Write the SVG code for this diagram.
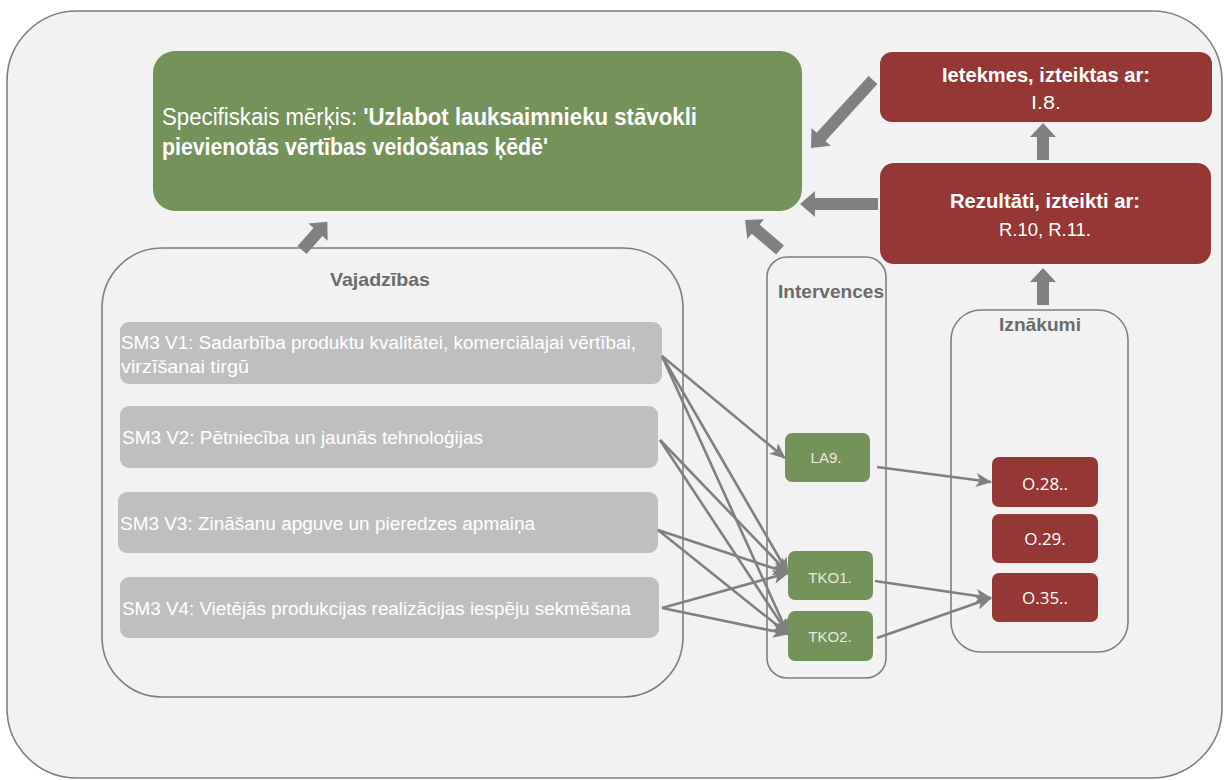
<svg xmlns="http://www.w3.org/2000/svg" width="1225" height="780" viewBox="0 0 1225 780">
<defs>
<style>
.frame{fill:#f2f2f2;stroke:#7f7f7f;stroke-width:1.6}
.green{fill:#76925b}
.red{fill:#953734}
.need{fill:#bfbfbf}
.cond{font-family:"Liberation Sans Narrow","Liberation Sans",Arial,sans-serif}
.title{font-family:"Liberation Sans Narrow","Liberation Sans",Arial,sans-serif;font-weight:bold;fill:#6b6b6b;font-size:19px}
.wt{fill:#ffffff}
.needtxt{font-family:"Liberation Sans Narrow","Liberation Sans",Arial,sans-serif;fill:#ffffff;font-size:18px}
.itv{font-family:"Liberation Sans",Arial,sans-serif;fill:#e4ebdc;font-size:15px;text-anchor:middle}
.out{font-family:"Open Sans","Liberation Sans",Arial,sans-serif;fill:#ffffff;font-size:17px;text-anchor:middle}
.conn{stroke:#808080;stroke-width:2.6;fill:none}
.blk{fill:#808080}
</style>
<marker id="ah" markerUnits="userSpaceOnUse" markerWidth="16" markerHeight="14" refX="15" refY="7" orient="auto">
<path d="M0,0 L16,7 L0,14 L4,7 Z" fill="#808080"/>
</marker>
</defs>

<rect class="frame" x="7" y="11" width="1215" height="767" rx="70"/>

<g id="goal">
<rect class="green" x="153" y="51" width="649" height="160" rx="22"/>
<text class="cond wt" x="162" y="125" font-size="23" textLength="535" lengthAdjust="spacingAndGlyphs">Specifiskais mērķis: <tspan font-weight="bold">'Uzlabot lauksaimnieku stāvokli</tspan></text>
<text class="cond wt" x="162" y="155" font-size="23" font-weight="bold" textLength="386" lengthAdjust="spacingAndGlyphs">pievienotās vērtības veidošanas ķēdē'</text>
</g>

<g id="impacts">
<rect class="red" x="880" y="52" width="332" height="70" rx="12"/>
<text class="cond wt" x="1046" y="82" font-size="21" font-weight="bold" text-anchor="middle" textLength="208" lengthAdjust="spacingAndGlyphs">Ietekmes, izteiktas ar:</text>
<text class="cond wt" x="1046" y="109" font-size="19" text-anchor="middle" textLength="30" lengthAdjust="spacingAndGlyphs">I.8.</text>
</g>

<g id="results">
<rect class="red" x="880" y="163" width="331" height="101" rx="14"/>
<text class="cond wt" x="1045" y="208" font-size="21" font-weight="bold" text-anchor="middle" textLength="190" lengthAdjust="spacingAndGlyphs">Rezultāti, izteikti ar:</text>
<text class="cond wt" x="1045" y="236" font-size="19" text-anchor="middle" textLength="92" lengthAdjust="spacingAndGlyphs">R.10, R.11.</text>
</g>

<g id="needs">
<rect class="frame" x="102" y="248" width="581" height="449" rx="60"/>
<text class="title" x="380" y="286" text-anchor="middle" textLength="100" lengthAdjust="spacingAndGlyphs">Vajadzības</text>
</g>

<g id="need-v1">
<rect class="need" x="120" y="322" width="542" height="62" rx="9"/>
<text class="needtxt" x="121" y="349" textLength="515" lengthAdjust="spacingAndGlyphs">SM3 V1: Sadarbība produktu kvalitātei, komerciālajai vērtībai,</text>
<text class="needtxt" x="121" y="373" textLength="128" lengthAdjust="spacingAndGlyphs">virzīšanai tirgū</text>
</g>
<g id="need-v2">
<rect class="need" x="120" y="406" width="538" height="62" rx="9"/>
<text class="needtxt" x="122" y="444" textLength="361" lengthAdjust="spacingAndGlyphs">SM3 V2: Pētniecība un jaunās tehnoloģijas</text>
</g>
<g id="need-v3">
<rect class="need" x="118" y="492" width="540" height="61" rx="9"/>
<text class="needtxt" x="120" y="530" textLength="415" lengthAdjust="spacingAndGlyphs">SM3 V3: Zināšanu apguve un pieredzes apmaiņa</text>
</g>
<g id="need-v4">
<rect class="need" x="120" y="577" width="539" height="61" rx="9"/>
<text class="needtxt" x="122" y="615" textLength="509" lengthAdjust="spacingAndGlyphs">SM3 V4: Vietējās produkcijas realizācijas iespēju sekmēšana</text>
</g>

<g id="interventions">
<rect class="frame" x="767" y="257" width="119" height="421" rx="20"/>
<text class="title" x="778" y="298" textLength="106" lengthAdjust="spacingAndGlyphs">Intervences</text>
</g>
<g id="int-la9">
<rect class="green" x="785" y="433" width="85" height="49" rx="7"/>
<text class="itv" x="826" y="463">LA9.</text>
</g>
<g id="int-tko1">
<rect class="green" x="788" y="551" width="85" height="49" rx="7"/>
<text class="itv" x="830" y="583">TKO1.</text>
</g>
<g id="int-tko2">
<rect class="green" x="788" y="611" width="85" height="50" rx="7"/>
<text class="itv" x="830" y="642">TKO2.</text>
</g>

<g id="outputs">
<rect class="frame" x="951" y="310" width="177" height="342" rx="30"/>
<text class="title" x="1040" y="331" text-anchor="middle" textLength="82" lengthAdjust="spacingAndGlyphs">Iznākumi</text>
</g>
<g id="out-o28">
<rect class="red" x="992" y="457" width="106" height="50" rx="7"/>
<text class="out" x="1045" y="490">O.28..</text>
</g>
<g id="out-o29">
<rect class="red" x="992" y="514" width="106" height="49" rx="7"/>
<text class="out" x="1045" y="545">O.29.</text>
</g>
<g id="out-o35">
<rect class="red" x="992" y="573" width="106" height="49" rx="7"/>
<text class="out" x="1045" y="604">O.35..</text>
</g>

<g id="connectors">
<line class="conn" x1="662" y1="356" x2="785" y2="458" marker-end="url(#ah)"/>
<line class="conn" x1="662" y1="356" x2="788" y2="573" marker-end="url(#ah)"/>
<line class="conn" x1="662" y1="356" x2="788" y2="634" marker-end="url(#ah)"/>
<line class="conn" x1="660" y1="440" x2="788" y2="573" marker-end="url(#ah)"/>
<line class="conn" x1="660" y1="440" x2="788" y2="634" marker-end="url(#ah)"/>
<line class="conn" x1="658" y1="530" x2="788" y2="573" marker-end="url(#ah)"/>
<line class="conn" x1="658" y1="530" x2="788" y2="634" marker-end="url(#ah)"/>
<line class="conn" x1="662" y1="608" x2="788" y2="573" marker-end="url(#ah)"/>
<line class="conn" x1="662" y1="608" x2="788" y2="634" marker-end="url(#ah)"/>
<line class="conn" x1="877" y1="467" x2="991" y2="482" marker-end="url(#ah)"/>
<line class="conn" x1="875" y1="581" x2="991" y2="598" marker-end="url(#ah)"/>
<line class="conn" x1="877" y1="638" x2="991" y2="598" marker-end="url(#ah)"/>

<g transform="translate(873,80) rotate(132.4)"><polygon class="blk" points="0,-6 77,-6 77,-13 92,0 77,13 77,6 0,6"/></g>
<g transform="translate(878,204) rotate(180)"><polygon class="blk" points="0,-6 63,-6 63,-13 78,0 63,13 63,6 0,6"/></g>
<g transform="translate(780,250) rotate(-139.4)"><polygon class="blk" points="0,-6 32,-6 32,-13 46,0 32,13 32,6 0,6"/></g>
<g transform="translate(302,250) rotate(-48.2)"><polygon class="blk" points="0,-6 24,-6 24,-13 38,0 24,13 24,6 0,6"/></g>
<g transform="translate(1043,160) rotate(-90)"><polygon class="blk" points="0,-6 23,-6 23,-13 37,0 23,13 23,6 0,6"/></g>
<g transform="translate(1043,305) rotate(-90)"><polygon class="blk" points="0,-6 23,-6 23,-13 37,0 23,13 23,6 0,6"/></g>
</g>
</svg>
